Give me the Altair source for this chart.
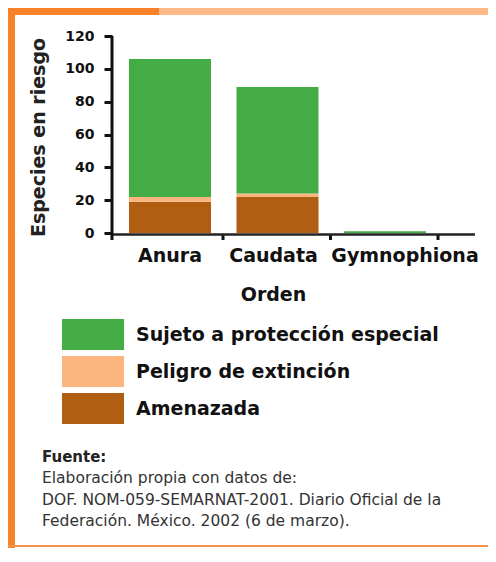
import altair as alt
import pandas as pd

# ---- data ----
ORDENES = ["Anura", "Caudata", "Gymnophiona"]
ESTADOS = ["Sujeto a protección especial", "Peligro de extinción", "Amenazada"]
COLORES = ["#43AC45", "#FDB580", "#B05F12"]
SUJETO = [84, 65, 1]
PELIGRO = [3, 2, 0]
AMENAZADA = [19, 22, 0]
Y_TICKS = [0, 20, 40, 60, 80, 100, 120]
FUENTE_TITULO = "Fuente:"
FUENTE_TEXTO = ("Elaboración propia con datos de:\n"
                "DOF. NOM-059-SEMARNAT-2001. Diario Oficial de la\n"
                "Federación. México. 2002 (6 de marzo).")

rows = []
for i, o in enumerate(ORDENES):
    for k, (estado, vals) in enumerate([("Amenazada", AMENAZADA),
                                        ("Peligro de extinción", PELIGRO),
                                        ("Sujeto a protección especial", SUJETO)]):
        rows.append({"Orden": o, "Estado": estado, "Especies": vals[i], "k": k})
df = pd.DataFrame(rows)
df_ord = pd.DataFrame({"Orden": ORDENES})
one = pd.DataFrame({"a": [0]})

FONT = "DejaVu Sans"
W, H = 331, 197
ORANGE = "#F7822A"
ORANGE_LIGHT = "#FDBA86"

x_scale = alt.Scale(domain=ORDENES, paddingInner=0.237, paddingOuter=0.158)

bars = alt.Chart(df).mark_bar(strokeWidth=0).encode(
    x=alt.X("Orden:N", scale=x_scale, sort=ORDENES,
            axis=alt.Axis(title="Orden", domain=False, ticks=False, tickSize=0,
                          grid=False, labelAngle=0, labelPadding=28,
                          labelBaseline="alphabetic", labelFont=FONT,
                          labelFontSize=19, labelFontWeight="bold",
                          labelColor="#111", labelOverlap=False, labelLimit=300,
                          labelOffset={"condition": [
                              {"test": "datum.value === 'Gymnophiona'", "value": 20},
                              {"test": "datum.value === 'Caudata'", "value": -4}],
                              "value": 0},
                          titleFont=FONT, titleFontSize=19, titleFontWeight="bold",
                          titleColor="#111", titleBaseline="alphabetic",
                          titleX=161, titleY=67)),
    y=alt.Y("Especies:Q", stack="zero", scale=alt.Scale(domain=[0, 120], nice=False),
            axis=alt.Axis(title="Especies en riesgo", values=Y_TICKS, domain=False,
                          grid=False, tickSize=8, tickWidth=3, tickColor="#111",
                          labelPadding=10, labelFont=FONT, labelFontSize=14,
                          labelFontWeight="bold", labelColor="#111",
                          titleFont=FONT, titleFontSize=19, titleFontWeight="bold",
                          titleColor="#222", titleAngle=270,
                          titleBaseline="alphabetic", titleX=-68, titleY=101)),
    color=alt.Color("Estado:N", scale=alt.Scale(domain=ESTADOS, range=COLORES),
                    legend=alt.Legend(title=None, orient="none", legendX=-34.5,
                                      legendY=283, symbolType="M-2,-1H2V1H-2Z",
                                      symbolSize=961, symbolStrokeWidth=0,
                                      symbolOpacity=1, labelOffset=27.5,
                                      rowPadding=6, padding=0, labelFont=FONT,
                                      labelFontSize=19, labelFontWeight="bold",
                                      labelColor="#111", labelLimit=400)),
    order=alt.Order("k:Q", sort="ascending"),
)

x_ticks = alt.Chart(df_ord).mark_rule(strokeWidth=3, color="#111", xOffset=12).encode(
    x=alt.X("Orden:N", bandPosition=1),
    y=alt.value(H + 1), y2=alt.value(H + 7),
)

y_domain = alt.Chart(one).mark_rule(strokeWidth=3, color="#111").encode(
    x=alt.value(0), y=alt.value(0), y2=alt.value(H + 7))
x_domain = alt.Chart(one).mark_rule(strokeWidth=2.5, color="#222").encode(
    x=alt.value(0), x2=alt.value(363), y=alt.value(H + 1.4))


def frame(x, x2, y, y2, color):
    return alt.Chart(one).mark_rect(color=color, strokeWidth=0).encode(
        x=alt.value(x), x2=alt.value(x2), y=alt.value(y), y2=alt.value(y2))


frames = [
    frame(-104, 47, -28, -21, ORANGE),
    frame(47, 376, -28, -21, ORANGE_LIGHT),
    frame(-104, -97, -28, 512, ORANGE),
    frame(-104, 376, 509, 511, "#F5944D"),
]

fuente_t = alt.Chart(one).mark_text(align="left", baseline="alphabetic", font=FONT,
                                    fontSize=15, fontWeight="bold", color="#222").encode(
    x=alt.value(-70), y=alt.value(426), text=alt.value(FUENTE_TITULO))
fuente_x = alt.Chart(one).mark_text(align="left", baseline="alphabetic", font=FONT,
                                    fontSize=15.5, color="#333", lineBreak="\n",
                                    lineHeight=21.5).encode(
    x=alt.value(-70), y=alt.value(447), text=alt.value(FUENTE_TEXTO))

chart = alt.layer(*frames, bars, x_ticks, x_domain, y_domain, fuente_t, fuente_x).properties(
    width=W, height=H,
    autosize=alt.AutoSizeParams(type="none"),
    padding={"left": 104, "top": 28, "right": 45, "bottom": 315},
).configure(background="white", view=alt.ViewConfig(stroke=None))

chart.save("out.html", embed_options={"renderer": "svg", "actions": False})
